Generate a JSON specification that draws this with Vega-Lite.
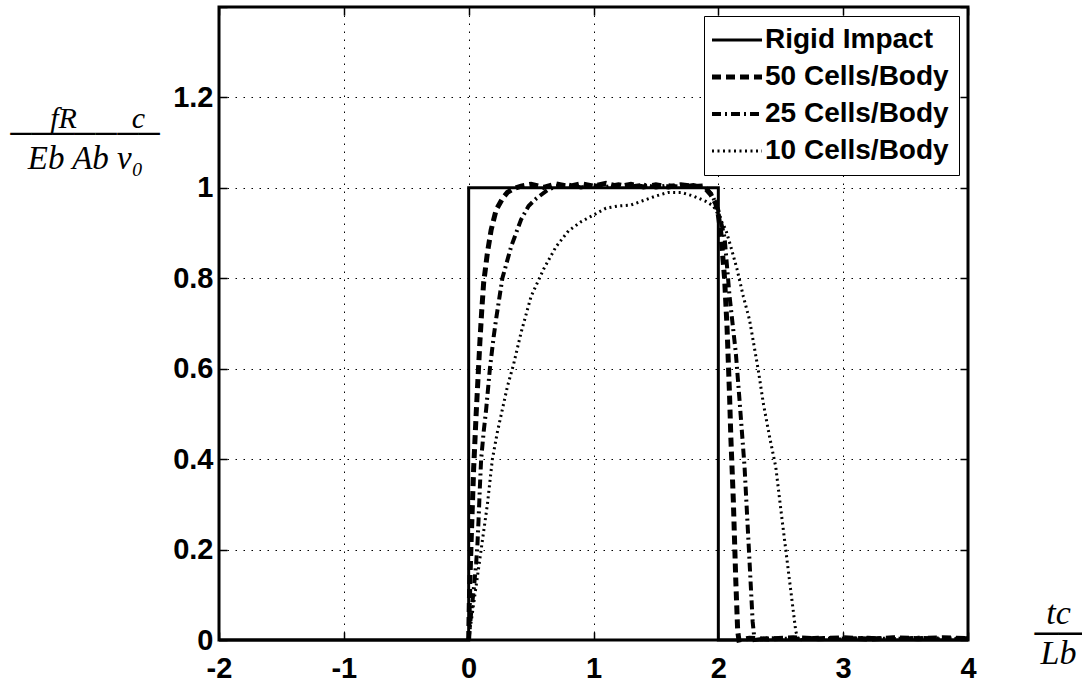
{
  "$schema": "https://vega.github.io/schema/vega-lite/v6.json",
  "width": 749,
  "height": 633,
  "autosize": {"type": "none"},
  "padding": {"left": 219, "top": 7, "right": 114, "bottom": 44},
  "background": "white",
  "config": {
    "view": {"stroke": "black", "strokeWidth": 3},
    "font": "Liberation Sans"
  },
  "data": {
    "values": [
      {"s": "Rigid Impact", "i": 0, "t": -2, "f": 0},
      {"s": "Rigid Impact", "i": 1, "t": 0, "f": 0},
      {"s": "Rigid Impact", "i": 2, "t": 0, "f": 1},
      {"s": "Rigid Impact", "i": 3, "t": 2, "f": 1},
      {"s": "Rigid Impact", "i": 4, "t": 2, "f": 0},
      {"s": "Rigid Impact", "i": 5, "t": 4, "f": 0},

      {"s": "50 Cells/Body", "i": 0, "t": 0, "f": 0},
      {"s": "50 Cells/Body", "i": 1, "t": 0.005, "f": 0.08},
      {"s": "50 Cells/Body", "i": 2, "t": 0.012, "f": 0.15},
      {"s": "50 Cells/Body", "i": 3, "t": 0.02, "f": 0.22},
      {"s": "50 Cells/Body", "i": 4, "t": 0.03, "f": 0.3},
      {"s": "50 Cells/Body", "i": 5, "t": 0.04, "f": 0.38},
      {"s": "50 Cells/Body", "i": 6, "t": 0.05, "f": 0.44},
      {"s": "50 Cells/Body", "i": 7, "t": 0.06, "f": 0.5},
      {"s": "50 Cells/Body", "i": 8, "t": 0.075, "f": 0.58},
      {"s": "50 Cells/Body", "i": 9, "t": 0.09, "f": 0.66},
      {"s": "50 Cells/Body", "i": 10, "t": 0.105, "f": 0.73},
      {"s": "50 Cells/Body", "i": 11, "t": 0.12, "f": 0.79},
      {"s": "50 Cells/Body", "i": 12, "t": 0.15, "f": 0.856},
      {"s": "50 Cells/Body", "i": 13, "t": 0.18, "f": 0.907},
      {"s": "50 Cells/Body", "i": 14, "t": 0.22, "f": 0.951},
      {"s": "50 Cells/Body", "i": 15, "t": 0.27, "f": 0.976},
      {"s": "50 Cells/Body", "i": 16, "t": 0.31, "f": 0.99},
      {"s": "50 Cells/Body", "i": 17, "t": 0.36, "f": 0.998},
      {"s": "50 Cells/Body", "i": 18, "t": 0.42, "f": 1.004},
      {"s": "50 Cells/Body", "i": 19, "t": 0.5, "f": 1.008},
      {"s": "50 Cells/Body", "i": 20, "t": 0.6, "f": 1.001},
      {"s": "50 Cells/Body", "i": 21, "t": 0.7, "f": 1.009},
      {"s": "50 Cells/Body", "i": 22, "t": 0.8, "f": 1.003},
      {"s": "50 Cells/Body", "i": 23, "t": 0.9, "f": 1.009},
      {"s": "50 Cells/Body", "i": 24, "t": 1.0, "f": 1.004},
      {"s": "50 Cells/Body", "i": 25, "t": 1.1, "f": 1.01},
      {"s": "50 Cells/Body", "i": 26, "t": 1.2, "f": 1.003},
      {"s": "50 Cells/Body", "i": 27, "t": 1.3, "f": 1.008},
      {"s": "50 Cells/Body", "i": 28, "t": 1.4, "f": 1.002},
      {"s": "50 Cells/Body", "i": 29, "t": 1.5, "f": 1.007},
      {"s": "50 Cells/Body", "i": 30, "t": 1.6, "f": 1.002},
      {"s": "50 Cells/Body", "i": 31, "t": 1.7, "f": 1.007},
      {"s": "50 Cells/Body", "i": 32, "t": 1.8, "f": 1.003},
      {"s": "50 Cells/Body", "i": 33, "t": 1.88, "f": 1.004},
      {"s": "50 Cells/Body", "i": 34, "t": 1.94, "f": 0.985},
      {"s": "50 Cells/Body", "i": 35, "t": 1.98, "f": 0.965},
      {"s": "50 Cells/Body", "i": 36, "t": 2.0, "f": 0.94},
      {"s": "50 Cells/Body", "i": 37, "t": 2.02, "f": 0.9},
      {"s": "50 Cells/Body", "i": 38, "t": 2.05, "f": 0.8},
      {"s": "50 Cells/Body", "i": 39, "t": 2.07, "f": 0.69},
      {"s": "50 Cells/Body", "i": 40, "t": 2.09, "f": 0.54},
      {"s": "50 Cells/Body", "i": 41, "t": 2.1, "f": 0.45},
      {"s": "50 Cells/Body", "i": 42, "t": 2.12, "f": 0.31},
      {"s": "50 Cells/Body", "i": 43, "t": 2.14, "f": 0.13},
      {"s": "50 Cells/Body", "i": 44, "t": 2.155, "f": 0.02},
      {"s": "50 Cells/Body", "i": 45, "t": 2.165, "f": 0.0},
      {"s": "50 Cells/Body", "i": 46, "t": 2.25, "f": 0.004},
      {"s": "50 Cells/Body", "i": 47, "t": 2.4, "f": 0.002},
      {"s": "50 Cells/Body", "i": 48, "t": 2.6, "f": 0.005},
      {"s": "50 Cells/Body", "i": 49, "t": 2.8, "f": 0.003},
      {"s": "50 Cells/Body", "i": 50, "t": 3.0, "f": 0.005},
      {"s": "50 Cells/Body", "i": 51, "t": 3.2, "f": 0.002},
      {"s": "50 Cells/Body", "i": 52, "t": 3.4, "f": 0.005},
      {"s": "50 Cells/Body", "i": 53, "t": 3.6, "f": 0.003},
      {"s": "50 Cells/Body", "i": 54, "t": 3.8, "f": 0.005},
      {"s": "50 Cells/Body", "i": 55, "t": 4.0, "f": 0.003},

      {"s": "25 Cells/Body", "i": 0, "t": 0, "f": 0},
      {"s": "25 Cells/Body", "i": 1, "t": 0.01, "f": 0.03},
      {"s": "25 Cells/Body", "i": 2, "t": 0.02, "f": 0.06},
      {"s": "25 Cells/Body", "i": 3, "t": 0.04, "f": 0.11},
      {"s": "25 Cells/Body", "i": 4, "t": 0.06, "f": 0.17},
      {"s": "25 Cells/Body", "i": 5, "t": 0.07, "f": 0.21},
      {"s": "25 Cells/Body", "i": 6, "t": 0.08, "f": 0.27},
      {"s": "25 Cells/Body", "i": 7, "t": 0.09, "f": 0.34},
      {"s": "25 Cells/Body", "i": 8, "t": 0.1, "f": 0.4},
      {"s": "25 Cells/Body", "i": 9, "t": 0.12, "f": 0.46},
      {"s": "25 Cells/Body", "i": 10, "t": 0.14, "f": 0.51},
      {"s": "25 Cells/Body", "i": 11, "t": 0.17, "f": 0.6},
      {"s": "25 Cells/Body", "i": 12, "t": 0.2, "f": 0.67},
      {"s": "25 Cells/Body", "i": 13, "t": 0.22, "f": 0.71},
      {"s": "25 Cells/Body", "i": 14, "t": 0.27, "f": 0.8},
      {"s": "25 Cells/Body", "i": 15, "t": 0.34, "f": 0.87},
      {"s": "25 Cells/Body", "i": 16, "t": 0.42, "f": 0.93},
      {"s": "25 Cells/Body", "i": 17, "t": 0.48, "f": 0.96},
      {"s": "25 Cells/Body", "i": 18, "t": 0.54, "f": 0.976},
      {"s": "25 Cells/Body", "i": 19, "t": 0.63, "f": 0.995},
      {"s": "25 Cells/Body", "i": 20, "t": 0.7, "f": 1.003},
      {"s": "25 Cells/Body", "i": 21, "t": 0.8, "f": 1.007},
      {"s": "25 Cells/Body", "i": 22, "t": 0.9, "f": 1.001},
      {"s": "25 Cells/Body", "i": 23, "t": 1.0, "f": 1.006},
      {"s": "25 Cells/Body", "i": 24, "t": 1.1, "f": 1.002},
      {"s": "25 Cells/Body", "i": 25, "t": 1.2, "f": 1.008},
      {"s": "25 Cells/Body", "i": 26, "t": 1.3, "f": 1.003},
      {"s": "25 Cells/Body", "i": 27, "t": 1.4, "f": 1.007},
      {"s": "25 Cells/Body", "i": 28, "t": 1.5, "f": 1.001},
      {"s": "25 Cells/Body", "i": 29, "t": 1.6, "f": 1.006},
      {"s": "25 Cells/Body", "i": 30, "t": 1.7, "f": 1.002},
      {"s": "25 Cells/Body", "i": 31, "t": 1.8, "f": 1.006},
      {"s": "25 Cells/Body", "i": 32, "t": 1.9, "f": 1.0},
      {"s": "25 Cells/Body", "i": 33, "t": 1.95, "f": 0.985},
      {"s": "25 Cells/Body", "i": 34, "t": 2.0, "f": 0.95},
      {"s": "25 Cells/Body", "i": 35, "t": 2.05, "f": 0.89},
      {"s": "25 Cells/Body", "i": 36, "t": 2.09, "f": 0.76},
      {"s": "25 Cells/Body", "i": 37, "t": 2.14, "f": 0.635},
      {"s": "25 Cells/Body", "i": 38, "t": 2.17, "f": 0.53},
      {"s": "25 Cells/Body", "i": 39, "t": 2.21, "f": 0.383},
      {"s": "25 Cells/Body", "i": 40, "t": 2.245, "f": 0.2},
      {"s": "25 Cells/Body", "i": 41, "t": 2.275, "f": 0.04},
      {"s": "25 Cells/Body", "i": 42, "t": 2.29, "f": 0.0},
      {"s": "25 Cells/Body", "i": 43, "t": 2.4, "f": 0.004},
      {"s": "25 Cells/Body", "i": 44, "t": 2.6, "f": 0.002},
      {"s": "25 Cells/Body", "i": 45, "t": 2.8, "f": 0.005},
      {"s": "25 Cells/Body", "i": 46, "t": 3.0, "f": 0.003},
      {"s": "25 Cells/Body", "i": 47, "t": 3.2, "f": 0.005},
      {"s": "25 Cells/Body", "i": 48, "t": 3.4, "f": 0.002},
      {"s": "25 Cells/Body", "i": 49, "t": 3.6, "f": 0.005},
      {"s": "25 Cells/Body", "i": 50, "t": 3.8, "f": 0.003},
      {"s": "25 Cells/Body", "i": 51, "t": 4.0, "f": 0.004},

      {"s": "10 Cells/Body", "i": 0, "t": 0, "f": 0},
      {"s": "10 Cells/Body", "i": 1, "t": 0.02, "f": 0.04},
      {"s": "10 Cells/Body", "i": 2, "t": 0.05, "f": 0.1},
      {"s": "10 Cells/Body", "i": 3, "t": 0.1, "f": 0.2},
      {"s": "10 Cells/Body", "i": 4, "t": 0.15, "f": 0.3},
      {"s": "10 Cells/Body", "i": 5, "t": 0.19, "f": 0.4},
      {"s": "10 Cells/Body", "i": 6, "t": 0.23, "f": 0.46},
      {"s": "10 Cells/Body", "i": 7, "t": 0.27, "f": 0.51},
      {"s": "10 Cells/Body", "i": 8, "t": 0.31, "f": 0.56},
      {"s": "10 Cells/Body", "i": 9, "t": 0.36, "f": 0.61},
      {"s": "10 Cells/Body", "i": 10, "t": 0.42, "f": 0.68},
      {"s": "10 Cells/Body", "i": 11, "t": 0.5, "f": 0.76},
      {"s": "10 Cells/Body", "i": 12, "t": 0.6, "f": 0.82},
      {"s": "10 Cells/Body", "i": 13, "t": 0.7, "f": 0.87},
      {"s": "10 Cells/Body", "i": 14, "t": 0.8, "f": 0.905},
      {"s": "10 Cells/Body", "i": 15, "t": 0.9, "f": 0.925},
      {"s": "10 Cells/Body", "i": 16, "t": 1.0, "f": 0.94},
      {"s": "10 Cells/Body", "i": 17, "t": 1.1, "f": 0.955},
      {"s": "10 Cells/Body", "i": 18, "t": 1.2, "f": 0.96},
      {"s": "10 Cells/Body", "i": 19, "t": 1.3, "f": 0.962},
      {"s": "10 Cells/Body", "i": 20, "t": 1.4, "f": 0.972},
      {"s": "10 Cells/Body", "i": 21, "t": 1.5, "f": 0.982},
      {"s": "10 Cells/Body", "i": 22, "t": 1.6, "f": 0.99},
      {"s": "10 Cells/Body", "i": 23, "t": 1.7, "f": 0.99},
      {"s": "10 Cells/Body", "i": 24, "t": 1.8, "f": 0.982},
      {"s": "10 Cells/Body", "i": 25, "t": 1.9, "f": 0.97},
      {"s": "10 Cells/Body", "i": 26, "t": 1.96, "f": 0.96},
      {"s": "10 Cells/Body", "i": 27, "t": 2.0, "f": 0.94},
      {"s": "10 Cells/Body", "i": 28, "t": 2.06, "f": 0.907},
      {"s": "10 Cells/Body", "i": 29, "t": 2.1, "f": 0.87},
      {"s": "10 Cells/Body", "i": 30, "t": 2.15, "f": 0.82},
      {"s": "10 Cells/Body", "i": 31, "t": 2.2, "f": 0.76},
      {"s": "10 Cells/Body", "i": 32, "t": 2.25, "f": 0.708},
      {"s": "10 Cells/Body", "i": 33, "t": 2.32, "f": 0.597},
      {"s": "10 Cells/Body", "i": 34, "t": 2.36, "f": 0.524},
      {"s": "10 Cells/Body", "i": 35, "t": 2.41, "f": 0.45},
      {"s": "10 Cells/Body", "i": 36, "t": 2.46, "f": 0.383},
      {"s": "10 Cells/Body", "i": 37, "t": 2.5, "f": 0.29},
      {"s": "10 Cells/Body", "i": 38, "t": 2.54, "f": 0.2},
      {"s": "10 Cells/Body", "i": 39, "t": 2.58, "f": 0.11},
      {"s": "10 Cells/Body", "i": 40, "t": 2.62, "f": 0.02},
      {"s": "10 Cells/Body", "i": 41, "t": 2.64, "f": 0.0},
      {"s": "10 Cells/Body", "i": 42, "t": 2.8, "f": 0.004},
      {"s": "10 Cells/Body", "i": 43, "t": 3.0, "f": 0.002},
      {"s": "10 Cells/Body", "i": 44, "t": 3.2, "f": 0.005},
      {"s": "10 Cells/Body", "i": 45, "t": 3.4, "f": 0.003},
      {"s": "10 Cells/Body", "i": 46, "t": 3.6, "f": 0.005},
      {"s": "10 Cells/Body", "i": 47, "t": 3.8, "f": 0.002},
      {"s": "10 Cells/Body", "i": 48, "t": 4.0, "f": 0.004}
    ]
  },
  "layer": [
    {
      "transform": [{"filter": "datum.s === 'Rigid Impact'"}],
      "mark": {"type": "line", "color": "black", "strokeWidth": 3, "strokeCap": "butt", "strokeJoin": "miter"},
      "encoding": {
        "x": {
          "field": "t", "type": "quantitative",
          "scale": {"domain": [-2, 4], "nice": false, "zero": false},
          "axis": {
            "values": [-2, -1, 0, 1, 2, 3, 4],
            "labelExpr": "'' + datum.value",
            "labelFont": "Liberation Sans", "labelFontSize": 29, "labelFontWeight": "bold", "labelColor": "black",
            "labelFlush": false, "labelOverlap": false, "labelPadding": 22, "labelBaseline": "top",
            "domain": false,
            "ticks": true, "tickSize": -8, "tickColor": "black", "tickWidth": 1.5,
            "grid": true, "gridColor": "black", "gridDash": [1.5, 6.5], "gridWidth": 1, "gridOpacity": 1,
            "title": ["tc", "──", "Lb"],
            "titleFont": "Liberation Serif", "titleFontStyle": "italic", "titleFontWeight": "normal",
            "titleFontSize": 34, "titleLineHeight": 20, "titleColor": "black",
            "titleAlign": "center", "titleBaseline": "alphabetic",
            "titleX": 839, "titleY": -17
          }
        },
        "y": {
          "field": "f", "type": "quantitative",
          "scale": {"domain": [0, 1.4], "nice": false},
          "axis": {
            "values": [0, 0.2, 0.4, 0.6, 0.8, 1, 1.2, 1.4],
            "labelExpr": "datum.value > 1.3 ? '' : format(datum.value, '~g')",
            "labelFont": "Liberation Sans", "labelFontSize": 29, "labelFontWeight": "bold", "labelColor": "black",
            "labelFlush": false, "labelOverlap": false, "labelPadding": 14,
            "domain": false,
            "ticks": true, "tickSize": -8, "tickColor": "black", "tickWidth": 1.5,
            "grid": true, "gridColor": "black", "gridDash": [1.5, 6.5], "gridWidth": 1, "gridOpacity": 1,
            "title": ["fR", "─────"],
            "titleFont": "Liberation Serif", "titleFontStyle": "italic", "titleFontWeight": "normal",
            "titleFontSize": 30, "titleLineHeight": 15, "titleColor": "black",
            "titleAngle": 0, "titleAlign": "center", "titleBaseline": "alphabetic",
            "titleX": -156, "titleY": 120
          }
        },
        "order": {"field": "i", "type": "quantitative"},
        "strokeDash": {
          "field": "s", "type": "nominal",
          "scale": {
            "domain": ["Rigid Impact", "50 Cells/Body", "25 Cells/Body", "10 Cells/Body"],
            "range": [[1, 0], [9, 5], [9, 4, 2, 4], [2, 3.5]]
          },
          "legend": {
            "title": null, "orient": "top-right", "offset": 9,
            "symbolType": "stroke", "symbolSize": 2500, "symbolStrokeColor": "black", "symbolStrokeWidth": 3,
            "symbolOffset": 9,
            "labelFont": "Liberation Sans", "labelFontSize": 28, "labelFontWeight": "bold", "labelColor": "black",
            "labelLimit": 400, "labelOffset": 14,
            "fillColor": "white", "strokeColor": "black", "padding": 10, "rowPadding": 9,
            "encode": {
              "symbols": {
                "update": {
                  "strokeWidth": {"signal": "datum.value === '50 Cells/Body' ? 5 : datum.value === '25 Cells/Body' ? 4 : 3"}
                }
              }
            }
          }
        }
      }
    },
    {
      "transform": [{"filter": "datum.s === '50 Cells/Body'"}],
      "mark": {"type": "line", "color": "black", "strokeWidth": 5, "strokeCap": "butt", "strokeJoin": "miter"},
      "encoding": {
        "x": {
          "field": "t", "type": "quantitative",
          "scale": {"domain": [-2, 4], "nice": false, "zero": false},
          "axis": {
            "orient": "top", "values": [-2, -1, 0, 1, 2, 3, 4],
            "labels": false, "domain": false, "grid": false,
            "ticks": true, "tickSize": -8, "tickColor": "black", "tickWidth": 1.5,
            "title": "Eb Ab  v₀",
            "titleFont": "Liberation Serif", "titleFontStyle": "italic", "titleFontWeight": "normal",
            "titleFontSize": 33, "titleColor": "black",
            "titleAngle": 0, "titleAlign": "center", "titleBaseline": "alphabetic",
            "titleX": -134, "titleY": 161
          }
        },
        "y": {
          "field": "f", "type": "quantitative",
          "scale": {"domain": [0, 1.4], "nice": false},
          "axis": {
            "orient": "right", "values": [0, 0.2, 0.4, 0.6, 0.8, 1, 1.2, 1.4],
            "labels": false, "domain": false, "grid": false,
            "ticks": true, "tickSize": -8, "tickColor": "black", "tickWidth": 1.5,
            "title": ["c", "──"],
            "titleFont": "Liberation Serif", "titleFontStyle": "italic", "titleFontWeight": "normal",
            "titleFontSize": 30, "titleLineHeight": 15, "titleColor": "black",
            "titleAngle": 0, "titleAlign": "center", "titleBaseline": "alphabetic",
            "titleX": -830, "titleY": 120
          }
        },
        "order": {"field": "i", "type": "quantitative"},
        "strokeDash": {
          "field": "s", "type": "nominal",
          "scale": {
            "domain": ["Rigid Impact", "50 Cells/Body", "25 Cells/Body", "10 Cells/Body"],
            "range": [[1, 0], [9, 5], [9, 4, 2, 4], [2, 3.5]]
          }
        }
      }
    },
    {
      "transform": [{"filter": "datum.s === '25 Cells/Body'"}],
      "mark": {"type": "line", "color": "black", "strokeWidth": 4, "strokeCap": "butt", "strokeJoin": "miter"},
      "encoding": {
        "x": {"field": "t", "type": "quantitative", "scale": {"domain": [-2, 4], "nice": false, "zero": false}, "axis": null},
        "y": {"field": "f", "type": "quantitative", "scale": {"domain": [0, 1.4], "nice": false}, "axis": null},
        "order": {"field": "i", "type": "quantitative"},
        "strokeDash": {
          "field": "s", "type": "nominal",
          "scale": {
            "domain": ["Rigid Impact", "50 Cells/Body", "25 Cells/Body", "10 Cells/Body"],
            "range": [[1, 0], [9, 5], [9, 4, 2, 4], [2, 3.5]]
          }
        }
      }
    },
    {
      "transform": [{"filter": "datum.s === '10 Cells/Body'"}],
      "mark": {"type": "line", "color": "black", "strokeWidth": 3, "strokeCap": "butt", "strokeJoin": "miter"},
      "encoding": {
        "x": {"field": "t", "type": "quantitative", "scale": {"domain": [-2, 4], "nice": false, "zero": false}, "axis": null},
        "y": {"field": "f", "type": "quantitative", "scale": {"domain": [0, 1.4], "nice": false}, "axis": null},
        "order": {"field": "i", "type": "quantitative"},
        "strokeDash": {
          "field": "s", "type": "nominal",
          "scale": {
            "domain": ["Rigid Impact", "50 Cells/Body", "25 Cells/Body", "10 Cells/Body"],
            "range": [[1, 0], [9, 5], [9, 4, 2, 4], [2, 3.5]]
          }
        }
      }
    }
  ],
  "resolve": {"axis": {"x": "independent", "y": "independent"}}
}
